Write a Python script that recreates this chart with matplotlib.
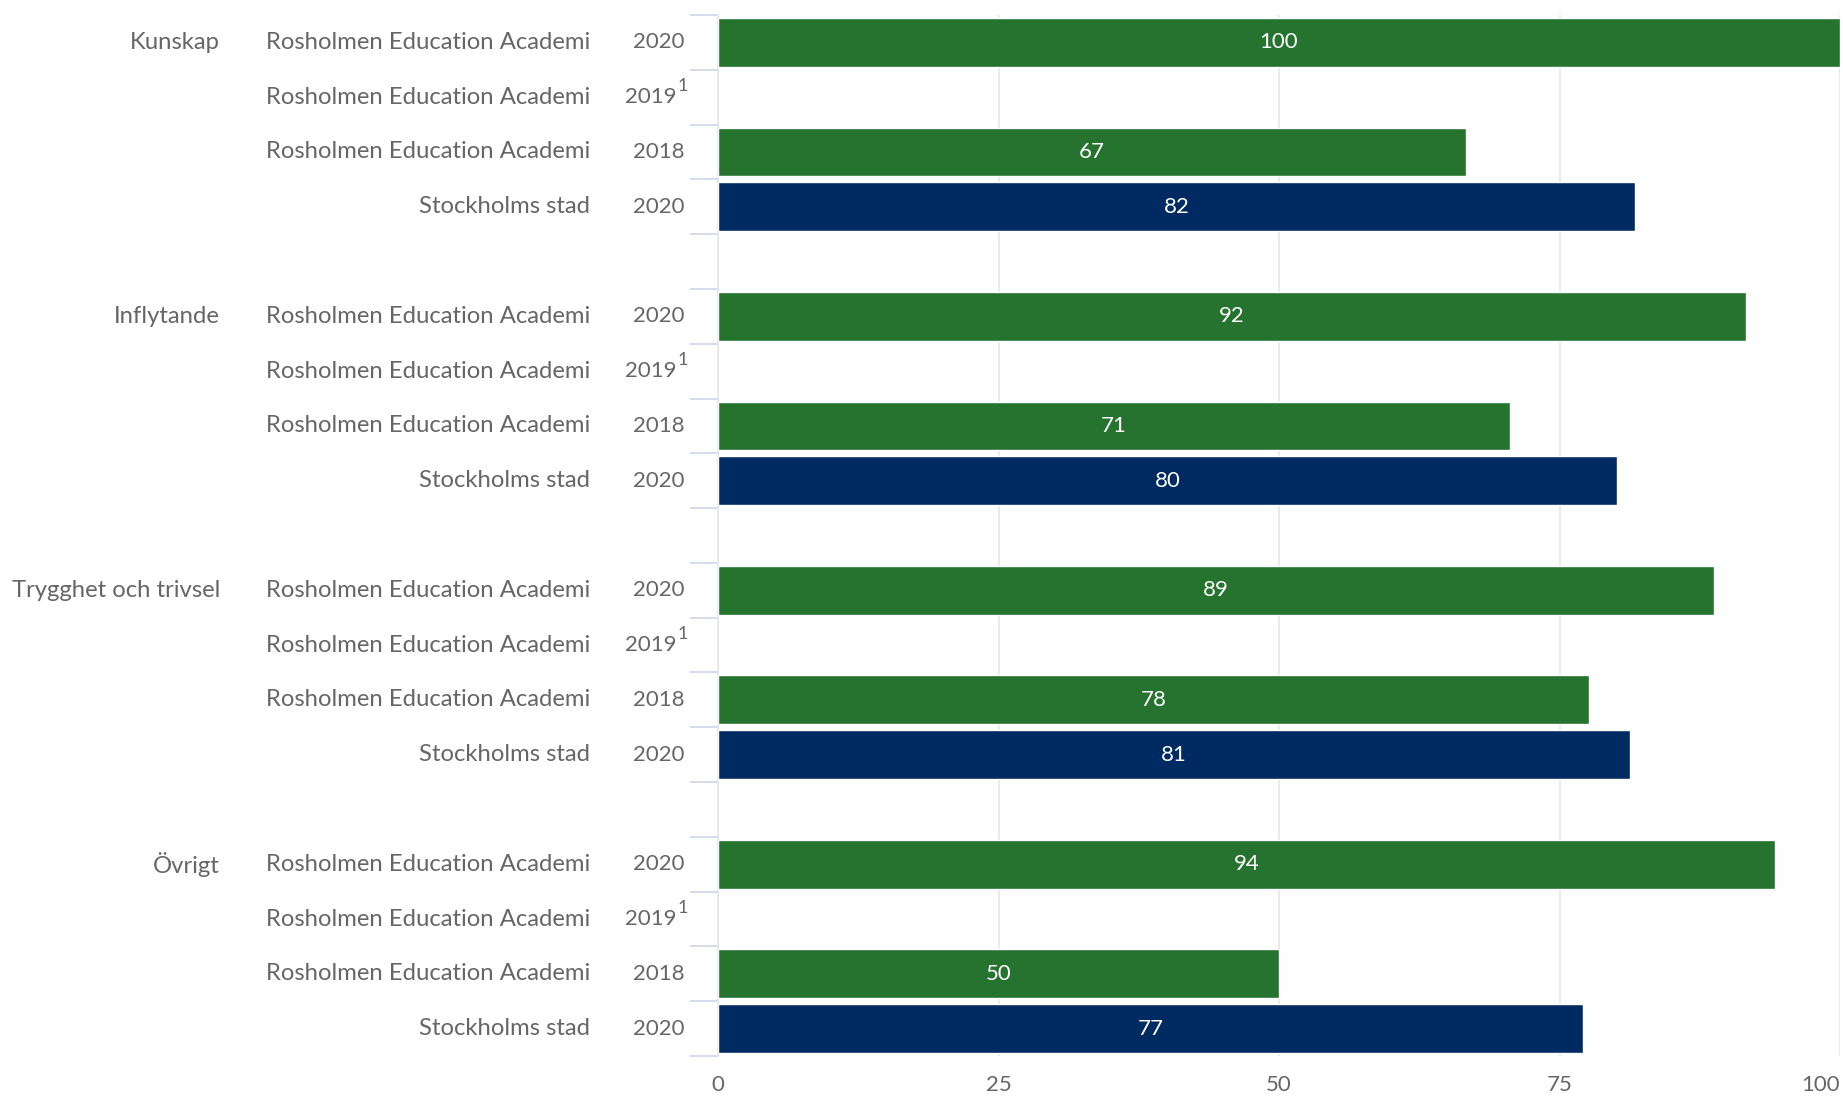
import matplotlib
matplotlib.use("Agg")
import matplotlib.pyplot as plt
from matplotlib.transforms import blended_transform_factory

plt.rcParams['font.family'] = ['Lato', 'DejaVu Sans']

groups = ["Kunskap", "Inflytande", "Trygghet och trivsel", "Övrigt"]
units = ["Rosholmen Education Academi", "Rosholmen Education Academi",
         "Rosholmen Education Academi", "Stockholms stad"]
years = ["2020", "2019", "2018", "2020"]
year_notes = ["", "1", "", ""]
# values per group: [REA 2020, REA 2019, REA 2018, Stockholm 2020]
values = {
    "Kunskap": [100, None, 66.7, 81.7],
    "Inflytande": [91.6, None, 70.6, 80.1],
    "Trygghet och trivsel": [88.8, None, 77.6, 81.3],
    "Övrigt": [94.2, None, 50, 77.1],
}
row_colors = ["#267330", "#267330", "#267330", "#002b62"]
xticks = [0, 25, 50, 75, 100]

W, H = 1843, 1098
fig = plt.figure(figsize=(W / 100, H / 100), dpi=100)
ax = fig.add_axes([718 / W, 1 - 1056 / H, (1840 - 718) / W, (1056 - 15) / H])

n_slots = len(groups) * 5 - 1
text_color = "#666666"
fs = 16
fs_lab = 17.2

tr = blended_transform_factory(fig.transFigure, ax.transData)

for g, grp in enumerate(groups):
    for r in range(4):
        y = g * 5 + r
        v = values[grp][r]
        if v is not None:
            ax.barh(y, v, height=0.89, color=row_colors[r], edgecolor="white",
                    linewidth=1, zorder=3)
            ax.text(v / 2, y, f"{v:.0f}", ha="center", va="center", color="white",
                    fontsize=fs, zorder=4)
        ax.text(590 / W, y, units[r], ha="right", va="center", color=text_color,
                fontsize=fs_lab, transform=tr)
        if year_notes[r]:
            ax.text(676 / W, y, years[r], ha="right", va="center", color=text_color,
                    fontsize=fs, transform=tr)
            ax.text(678 / W, y - 0.2, year_notes[r], ha="left", va="center",
                    color=text_color, fontsize=13, transform=tr)
        else:
            ax.text(685 / W, y, years[r], ha="right", va="center", color=text_color,
                    fontsize=fs, transform=tr)
    ax.text(220 / W, g * 5, grp, ha="right", va="center", color=text_color,
            fontsize=fs_lab, transform=tr)

ax.set_xlim(0, 100)
ax.set_ylim(n_slots - 0.5, -0.5)

ax.set_xticks(xticks)
ax.set_xticklabels([str(t) for t in xticks])
labels = ax.get_xticklabels()
labels[-1].set_horizontalalignment("right")
ax.tick_params(axis="x", length=0, pad=14, labelsize=fs, labelcolor=text_color)
ax.xaxis.grid(True, color="#e6e6e6", linewidth=1.2, zorder=0)
ax.set_axisbelow(True)

boundaries = [i - 0.5 for i in range(n_slots + 1)]
ax.set_yticks(boundaries)
ax.set_yticklabels([])
ax.tick_params(axis="y", length=20, width=1.2, color="#ccd6eb", direction="out")

for s in ["top", "right", "bottom"]:
    ax.spines[s].set_visible(False)
ax.spines["left"].set_color("#e6e6e6")
ax.spines["left"].set_linewidth(1.2)

fig.savefig("out.png", dpi=100, facecolor="white")
